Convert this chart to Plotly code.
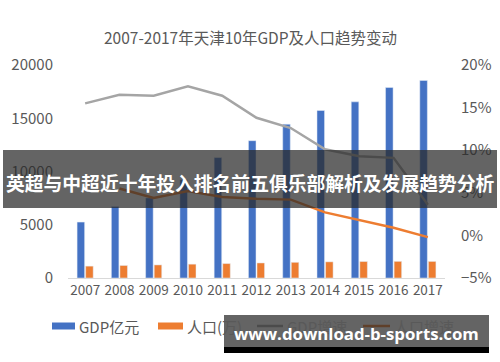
import plotly.graph_objects as go

years = ["2007", "2008", "2009", "2010", "2011", "2012", "2013", "2014", "2015", "2016", "2017"]
gdp = [5253, 6719, 7521, 9224, 11307, 12894, 14442, 15727, 16538, 17885, 18549]
population = [1115, 1176, 1228, 1299, 1355, 1413, 1472, 1517, 1547, 1562, 1557]
gdp_growth = [15.5, 16.5, 16.4, 17.5, 16.4, 13.8, 12.6, 10.1, 9.3, 9.1, 3.6]
pop_growth = [None, 5.5, 4.4, 5.2, 4.5, 4.3, 4.2, 2.7, 1.8, 0.9, -0.2]

series_names = ["GDP亿元", "人口(万)", "GDP增速", "人口增速"]
series_colors = ["#4472C4", "#ED7D31", "#A5A5A5", "#ED7D31"]

title = "2007-2017年天津10年GDP及人口趋势变动"
banner_text = "英超与中超近十年投入排名前五俱乐部解析及发展趋势分析"
watermark = "www.download-b-sports.com"

FONT = "Noto Sans CJK SC"
TXT = "#595959"

# plot-area pixel geometry (for paper-coordinate overlays)
PL, PR, PT, PB = 68, 445, 65, 278
def px(x):
    return (x - PL) / (PR - PL)
def py(y):
    return (PB - y) / (PB - PT)

fig = go.Figure()
fig.add_trace(go.Bar(x=years, y=gdp, name=series_names[0], marker_color=series_colors[0], yaxis="y"))
fig.add_trace(go.Bar(x=years, y=population, name=series_names[1], marker_color=series_colors[1], yaxis="y"))
fig.add_trace(go.Scatter(x=years, y=gdp_growth, name=series_names[2], mode="lines",
                         line=dict(color=series_colors[2], width=2.5), yaxis="y2"))
fig.add_trace(go.Scatter(x=years, y=pop_growth, name=series_names[3], mode="lines",
                         line=dict(color=series_colors[3], width=2.5), yaxis="y2"))

shapes = []
annotations = []

# custom legend
legend_items = [
    (52, 75, "rect"), (158, 183, "rect"), (257, 283, "line"), (363, 390, "line")
]
LY = 326
for (x0, x1, kind), name, col in zip(legend_items, series_names, series_colors):
    if kind == "rect":
        shapes.append(dict(type="rect", xref="paper", yref="paper",
                           x0=px(x0), x1=px(x1), y0=py(LY + 3.5), y1=py(LY - 3.5),
                           fillcolor=col, line=dict(width=0)))
    else:
        shapes.append(dict(type="line", xref="paper", yref="paper",
                           x0=px(x0), x1=px(x1), y0=py(LY), y1=py(LY),
                           line=dict(color=col, width=2.5)))
    annotations.append(dict(text=name, xref="paper", yref="paper", x=px(x1 + 2), y=py(LY),
                            xanchor="left", yanchor="middle", showarrow=False,
                            font=dict(size=15, color=TXT)))

# title
annotations.append(dict(text=title, xref="paper", yref="paper", x=px(250), y=py(37),
                        showarrow=False, font=dict(size=15.5, color=TXT),
                        xanchor="center", yanchor="middle"))

# overlay banners
shapes += [
    dict(type="rect", xref="paper", yref="paper", layer="above",
         x0=px(3), x1=px(497), y0=py(208), y1=py(150),
         fillcolor="rgba(40,40,40,0.72)", line=dict(width=0)),
    dict(type="rect", xref="paper", yref="paper", layer="above",
         x0=px(224), x1=px(489), y0=py(353), y1=py(347),
         fillcolor="black", line=dict(width=0)),
    dict(type="rect", xref="paper", yref="paper", layer="above",
         x0=px(224), x1=px(489), y0=py(347), y1=py(315),
         fillcolor="rgba(40,40,40,0.72)", line=dict(width=0)),
]
annotations += [
    dict(text="<b>" + banner_text + "</b>", xref="paper", yref="paper",
         x=px(250), y=py(182), showarrow=False,
         font=dict(size=18.8, color="white"), xanchor="center", yanchor="middle"),
    dict(text="<b>" + watermark + "</b>", xref="paper", yref="paper",
         x=px(356), y=py(333), showarrow=False,
         font=dict(size=16.8, color="white", family="Open Sans"), xanchor="center", yanchor="middle"),
]

fig.update_layout(
    width=500, height=362,
    margin=dict(l=PL, r=500 - PR, t=PT, b=362 - PB),
    paper_bgcolor="white", plot_bgcolor="white",
    font=dict(family=FONT, color=TXT, size=13),
    barmode="group", bargap=0.5, bargroupgap=0.12,
    showlegend=False,
    xaxis=dict(showgrid=False, showline=True, linecolor="#D9D9D9", linewidth=1,
               ticks="", tickfont=dict(size=13.5, color=TXT), automargin=False),
    yaxis=dict(range=[0, 20000], dtick=5000, tickformat="d", showgrid=False, zeroline=False,
               tickfont=dict(size=15, color=TXT), ticks="", ticklabelstandoff=14,
               automargin=False),
    yaxis2=dict(range=[-5, 20], dtick=5, overlaying="y", side="right", showgrid=False,
                zeroline=False, ticksuffix="%", tickfont=dict(size=15, color=TXT),
                ticks="", ticklabelstandoff=15, automargin=False),
    shapes=shapes,
    annotations=annotations,
)

fig.write_html(
    "out.html",
    config={"displayModeBar": False},
    post_script="document.body.style.margin='0';document.body.style.overflow='hidden';",
)
